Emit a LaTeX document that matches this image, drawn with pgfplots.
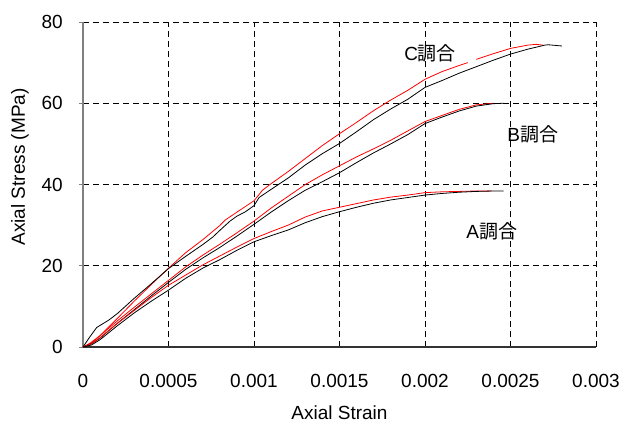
\documentclass[border=0pt]{standalone}
\usepackage{fontspec}
\setmainfont{Liberation Sans}
\newfontfamily\cjk{Noto Sans CJK JP}
\usepackage{pgfplots}
\pgfplotsset{compat=1.18}

\definecolor{axgray}{HTML}{808080}

\begin{document}
\begin{tikzpicture}
\fontsize{19}{23}\selectfont
\begin{axis}[
  name=ax,
  scale only axis,
  width=513pt, height=325pt,
  xmin=0, xmax=0.003, ymin=0, ymax=80,
  axis x line*=bottom, axis y line*=left,
  x axis line style={draw=black!80, line width=1.1pt},
  y axis line style={draw=axgray, line width=1.3pt},
  xtick={0,0.0005,0.001,0.0015,0.002,0.0025,0.003},
  xticklabels={0,0.0005,0.001,0.0015,0.002,0.0025,0.003},
  ytick={0,20,40,60,80},
  yticklabels={0,20,40,60,80},
  scaled x ticks=false, scaled y ticks=false,
  tick align=outside,
  major tick length=4pt,
  xtick style={draw=none},
  ytick style={draw=axgray, line width=0.8pt},
  grid=major,
  major grid style={black, line width=0.8pt, dash pattern=on 6pt off 4pt},
  tick label style={font=\fontsize{19}{23}\selectfont},
  xticklabel style={inner sep=0pt, anchor=north, yshift=-23pt},
  yticklabel style={inner sep=0pt, anchor=east, xshift=-16pt},
  label style={font=\fontsize{19}{23}\selectfont},
  xlabel={Axial Strain},
  ylabel={Axial Stress (MPa)},
  xlabel style={at={(axis description cs:0.5,-0.203)}, anchor=center},
  ylabel style={at={(axis description cs:-0.123,0.554)}, anchor=center},
  clip=false,
]
% C mix
\addplot[red, line width=0.8pt] coordinates {
 (0,0) (0.00004,0.9) (0.0001,2.8) (0.00015,4.9) (0.0002,7.0) (0.0003,11.3)
 (0.0004,15.4) (0.0005,19.4) (0.0006,23.2) (0.0007,26.4) (0.00076,28.5)
 (0.0008,29.9) (0.00083,31.2) (0.0009,33.2) (0.001,36.0) (0.00105,38.6)
 (0.0011,40.2) (0.0012,43.2) (0.0013,46.4) (0.0014,49.6) (0.0015,52.5)
 (0.0016,55.3) (0.0017,58.2) (0.0018,60.8) (0.0019,63.2) (0.002,65.9)
 (0.0021,67.8) (0.0022,69.3) (0.00225,70.0)};
\addplot[red, line width=0.8pt] coordinates {
 (0.0023,70.8) (0.0024,72.2) (0.0025,73.5) (0.0026,74.3) (0.00265,74.5)
 (0.00269,74.3)};
\addplot[black, line width=0.8pt] coordinates {
 (0,0) (0.00004,2.5) (0.00008,4.8) (0.00015,6.6) (0.0002,8.2) (0.0003,12.0)
 (0.0004,15.6) (0.0005,19.3) (0.0006,22.3) (0.0007,25.2) (0.00076,27.1)
 (0.0008,28.7) (0.00086,31.0) (0.0009,32.2) (0.00095,33.3) (0.001,34.8)
 (0.00103,36.8) (0.0011,38.8) (0.0012,41.6) (0.0013,44.8) (0.0014,47.6)
 (0.0015,50.1) (0.0016,53.0) (0.0017,56.0) (0.0018,58.6) (0.0019,61.0)
 (0.002,63.9) (0.0021,65.6) (0.0022,67.4) (0.0023,69.0) (0.0024,70.6)
 (0.0025,72.1) (0.0026,73.3) (0.0027,74.3) (0.00272,74.4) (0.0028,74.1)};
% B mix
\addplot[red, line width=0.8pt] coordinates {
 (0,0) (0.00005,1.0) (0.0001,2.8) (0.0002,6.4) (0.0003,9.8) (0.0004,13.1)
 (0.0005,16.4) (0.0006,19.7) (0.0007,22.6) (0.0008,25.3) (0.0009,28.1)
 (0.001,31.0) (0.0011,34.2) (0.0012,37.1) (0.0013,40.0) (0.0014,42.4)
 (0.0015,44.6) (0.0016,46.8) (0.0017,48.8) (0.0018,50.9) (0.0019,53.2)
 (0.002,55.5) (0.0021,57.0) (0.0022,58.5) (0.0023,59.6) (0.0024,60.0)};
\addplot[black, line width=0.8pt] coordinates {
 (0,0) (0.00005,0.8) (0.0001,2.2) (0.0002,5.8) (0.0003,9.2) (0.0004,12.6)
 (0.0005,15.9) (0.0006,19.1) (0.0007,21.9) (0.0008,24.5) (0.0009,27.3)
 (0.001,30.2) (0.0011,33.2) (0.0012,36.0) (0.0013,38.6) (0.0014,40.7)
 (0.0015,42.9) (0.0016,45.4) (0.0017,47.8) (0.0018,50.0) (0.0019,52.3)
 (0.002,55.0) (0.0021,56.6) (0.0022,58.1) (0.0023,59.3) (0.0024,59.9)
 (0.00246,60.0)};
% A mix
\addplot[red, line width=0.8pt] coordinates {
 (0,0) (0.00005,0.8) (0.0001,2.3) (0.0002,5.8) (0.0003,9.0) (0.0004,12.2)
 (0.0005,15.2) (0.0006,17.7) (0.0007,20.2) (0.0008,22.4) (0.0009,24.6)
 (0.001,26.7) (0.0011,28.4) (0.0012,30.0) (0.0013,32.0) (0.0014,33.5)
 (0.0015,34.4) (0.0016,35.3) (0.0017,36.2) (0.0018,36.9) (0.0019,37.4)
 (0.002,38.0) (0.0021,38.2) (0.0022,38.3) (0.0023,38.4) (0.00239,38.4)};
\addplot[black, line width=0.8pt] coordinates {
 (0,0) (0.00005,0.5) (0.0001,1.8) (0.0002,5.2) (0.0003,8.4) (0.0004,11.3)
 (0.0005,14.0) (0.0006,16.9) (0.0007,19.4) (0.0008,21.5) (0.0009,23.8)
 (0.001,25.9) (0.0011,27.4) (0.0012,28.8) (0.0013,30.6) (0.0014,32.1)
 (0.0015,33.3) (0.0016,34.4) (0.0017,35.4) (0.0018,36.2) (0.0019,36.8)
 (0.002,37.4) (0.0021,37.8) (0.0022,38.1) (0.0023,38.3) (0.0024,38.4)
 (0.00246,38.4)};
% curve labels
\node[inner sep=0pt] at (axis cs:0.00203,72.4) {C{\cjk 調合}};
\node[inner sep=0pt] at (axis cs:0.00263,52.3) {B{\cjk 調合}};
\node[inner sep=0pt] at (axis cs:0.00239,28.5) {A{\cjk 調合}};
\end{axis}
\pgfresetboundingbox
\path[use as bounding box] ([xshift=-83pt,yshift=-79pt]ax.south west)
  rectangle ([xshift=28pt,yshift=22pt]ax.north east);
\end{tikzpicture}
\end{document}
